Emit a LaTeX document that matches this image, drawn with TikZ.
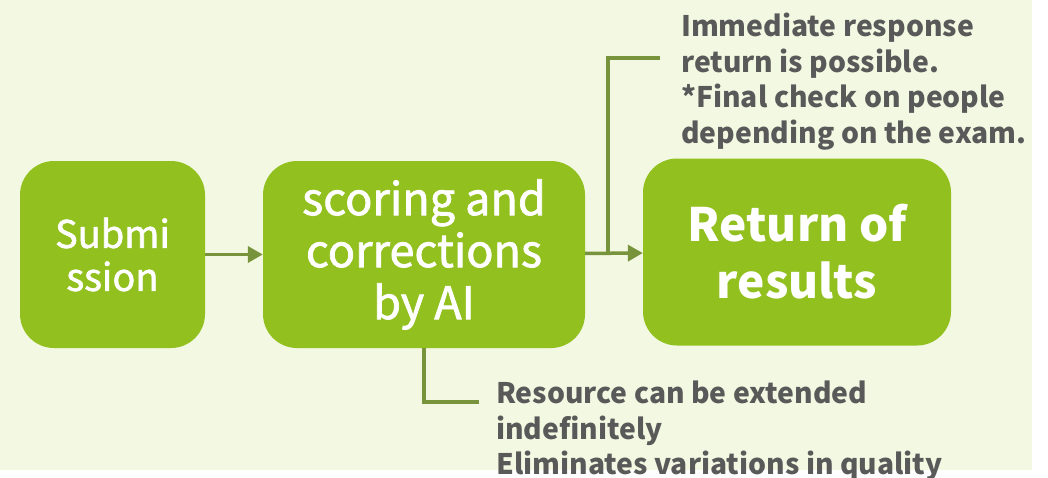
\documentclass[tikz,border=0pt]{standalone}
\usepackage{fontspec}
\usetikzlibrary{arrows.meta}
\newfontfamily\jpsans{Noto Sans CJK JP}
\newfontfamily\jpmedium{Noto Sans CJK JP}[FakeBold=1.6]
\definecolor{bgtint}{HTML}{F2F8E1}
\definecolor{leaf}{HTML}{92C01F}
\definecolor{olive}{HTML}{77933C}
\definecolor{ink}{HTML}{595959}
\begin{document}
\begin{tikzpicture}[x=1pt,y=-1pt,
  stage/.style={rectangle, rounded corners=34pt, fill=leaf, text=white,
    minimum height=187pt, align=center, inner sep=0pt},
  link/.style={draw=olive, line width=3.5pt},
  flow/.style={link, -{Triangle[length=15pt,width=16pt]}},
  note/.style={anchor=north west, inner sep=0pt, align=left, text=ink,
    font={\jpsans\bfseries\fontsize{28.3}{35.5}\selectfont}}]
\useasboundingbox (0,0) rectangle (1048,477);
\clip (0,0) rectangle (1048,477);
% light tinted panel behind the flow
\fill[bgtint] (0,0) rectangle (1032,470);

% process stages
\node[stage, minimum width=185pt, font={\jpmedium\fontsize{38}{43}\selectfont}]
  (sub) at (112.5,254.5) {Submi\\ssion};
\node[stage, minimum width=322pt, font={\jpmedium\fontsize{45}{52}\selectfont}]
  (ai) at (424,254.5) {scoring and\\corrections\\by AI};
\node[stage, minimum width=308pt, font={\jpsans\bfseries\fontsize{46}{57}\selectfont}]
  (ret) at (797,252) {Return of\\results};

% flow arrows
\draw[flow] (sub) -- (ai);
\draw[flow] (ai) -- (ret);

% callout notes
\node[note] (fast) at (681,13) {Immediate response\\return is possible.\\*Final check on people\\depending on the exam.};
\node[note] (scale) at (496,381) {Resource can be extended\\indefinitely\\Eliminates variations in quality};

\coordinate (tap) at (608,254.5);
\coordinate (fastend) at (660,58);
\coordinate (scaleend) at (479,402);
\draw[link] (tap) |- (fastend);
\draw[link] (ai.south) |- (scaleend);
\end{tikzpicture}
\end{document}
